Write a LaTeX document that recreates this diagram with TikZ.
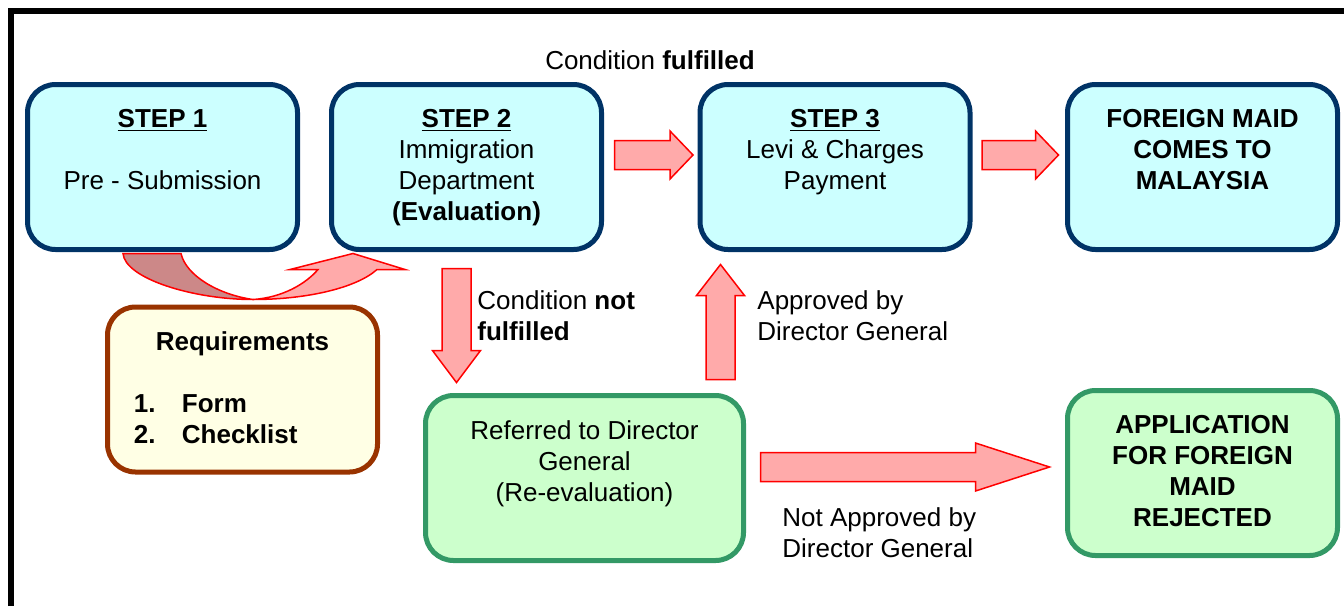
\documentclass[tikz,border=0pt]{standalone}
\usepackage{fontspec}
\setmainfont{Liberation Sans}
\usetikzlibrary{calc,positioning}

\definecolor{stepfill}{HTML}{CCFFFF}
\definecolor{stepline}{HTML}{003366}
\definecolor{reqfill}{HTML}{FFFFE5}
\definecolor{reqline}{HTML}{993300}
\definecolor{okfill}{HTML}{CCFFCC}
\definecolor{okline}{HTML}{339966}
\definecolor{arrfill}{HTML}{FFAAAA}
\definecolor{arrshade}{HTML}{CC8888}

\newcommand{\diafont}{\fontsize{13pt}{15.5pt}\selectfont}
% block arrow: [head length]{tail}{tip}
\newcommand{\blockarrow}[3][11.5pt]{%
  \coordinate (hb) at ($(#3)!#1!(#2)$);
  \draw[fatarrow] ($(#2)!7.25pt!90:(#3)$) -- ($(hb)!7.25pt!90:(#3)$)
    -- ($(hb)!12pt!90:(#3)$) -- (#3) -- ($(hb)!12pt!-90:(#3)$)
    -- ($(hb)!7.25pt!-90:(#3)$) -- ($(#2)!7.25pt!-90:(#3)$) -- cycle;
}

\begin{document}
\begin{tikzpicture}[x=0.5pt,y=-0.5pt,
  every node/.style={font=\diafont},
  card/.style={rounded corners=14pt,line width=2.5pt,minimum width=135pt,minimum height=82.5pt,inner sep=0pt},
  stepbox/.style={card,draw=stepline,fill=stepfill},
  reqbox/.style={card,draw=reqline,fill=reqfill},
  okbox/.style={card,draw=okline,fill=okfill},
  boxtext/.style={align=center,inner sep=0pt},
  boldtext/.style={boxtext,font=\diafont\bfseries},
  lbl/.style={align=left,inner sep=0pt,anchor=north west},
  fatarrow/.style={draw=red,fill=arrfill,line width=0.75pt,line join=miter}]
\useasboundingbox (0,0) rectangle (1344,606);
\draw[line width=3pt] (11,606) -- (11,11) -- (1344,11);

% boxes
\node[stepbox] (s1) at (162.5,167) {};
\node[stepbox] (s2) at (466.5,167) {};
\node[stepbox] (s3) at (835,167) {};
\node[stepbox] (fm) at (1202.5,167) {};
\node[reqbox] (req) at (242.5,389.5) {};
\node[okbox,minimum width=159pt] (ref) at (584.5,478) {};
\node[okbox] (app) at (1202.5,473) {};

% box texts
\node[boxtext,below=13.5pt of s1.north] (t1) {\underline{\textbf{STEP 1}}\\[15.5pt]Pre - Submission};
\node[boxtext,below=13.5pt of s2.north] (t2) {\underline{\textbf{STEP 2}}\\Immigration\\Department\\\textbf{(Evaluation)}};
\node[boxtext,below=13.5pt of s3.north] (t3) {\underline{\textbf{STEP 3}}\\Levi \& Charges\\Payment};
\node[boldtext,below=13.5pt of fm.north] (tfm) {FOREIGN MAID\\COMES TO\\MALAYSIA};
\node[boldtext,below=13.5pt of req.north] (treq) {Requirements};
\node[lbl,font=\diafont\bfseries] (tlist) at ([shift={(28.5,89.5)}]req.north west)
  {\makebox[24pt][l]{1.}Form\\\makebox[24pt][l]{2.}Checklist};
\node[boxtext,below=13.75pt of ref.north] (tref) {Referred to Director\\General\\(Re-evaluation)};
\node[boldtext,below=13.25pt of app.north] (tapp) {APPLICATION\\FOR FOREIGN\\MAID\\REJECTED};

% connectors
\coordinate (a1) at ([shift={(10.5,-12)}]s2.east);
\coordinate (b1) at ([shift={(-4.5,-12)}]s3.west);
\blockarrow{a1}{b1}
\coordinate (a2) at ([shift={(9.5,-12)}]s3.east);
\coordinate (b2) at ([shift={(-6.5,-12)}]fm.west);
\blockarrow{a2}{b2}
\coordinate (a3) at ([shift={(-10,16.5)}]s2.south);
\coordinate (b3) at ([yshift=5.25pt]a3 |- ref.north);
\blockarrow[16pt]{a3}{b3}
\coordinate (b4) at ([shift={(-114.5,12.5)}]s3.south);
\coordinate (a4) at ([yshift=6.75pt]b4 |- ref.north);
\blockarrow[15.5pt]{a4}{b4}
\coordinate (a5) at ([shift={(14.5,-11)}]ref.east);
\coordinate (b5) at ([xshift=-7.75pt]a5 -| app.west);
\blockarrow[37pt]{a5}{b5}

% curved arrow from step 1 to step 2
\begin{scope}[shift={(s1.south)}]
\draw[fatarrow] (90.5,47.5) .. controls +(55,0) and +(-20,18) .. (214.5,17.5)
  -- (242.5,17.5) -- (190.5,1.5) -- (127.5,17.5) -- (155.5,17.5)
  .. controls +(-12,14) and +(30,-2) .. (90.5,47.5) -- cycle;
\draw[fatarrow,fill=arrshade] (-39.5,1.5) -- (18.5,1.5)
  .. controls +(5,22) and +(-35,-5) .. (90.5,47.5)
  .. controls +(-60,0) and +(2,25) .. (-39.5,1.5) -- cycle;
\end{scope}

% labels
\node[font=\diafont,anchor=base,inner sep=0pt] (lfulf) at (650,69) {Condition \textbf{fulfilled}};
\node[lbl] (lnot) at (477,290.5) {Condition \textbf{not}\\\textbf{fulfilled}};
\node[lbl] (lyes) at (757,290.5) {Approved by\\Director General};
\node[lbl] (lno) at (782,507.5) {Not Approved by\\Director General};
\end{tikzpicture}
\end{document}
